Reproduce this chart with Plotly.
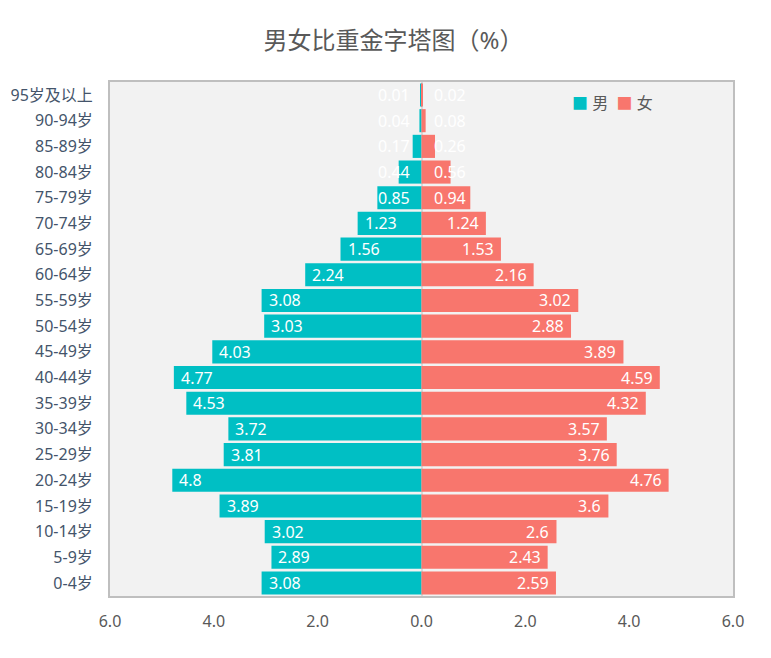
import plotly.graph_objects as go

categories = ["0-4岁", "5-9岁", "10-14岁", "15-19岁", "20-24岁", "25-29岁", "30-34岁",
              "35-39岁", "40-44岁", "45-49岁", "50-54岁", "55-59岁", "60-64岁", "65-69岁",
              "70-74岁", "75-79岁", "80-84岁", "85-89岁", "90-94岁", "95岁及以上"]
male = [3.08, 2.89, 3.02, 3.89, 4.8, 3.81, 3.72, 4.53, 4.77, 4.03, 3.03, 3.08, 2.24,
        1.56, 1.23, 0.85, 0.44, 0.17, 0.04, 0.01]
female = [2.59, 2.43, 2.6, 3.6, 4.76, 3.76, 3.57, 4.32, 4.59, 3.89, 2.88, 3.02, 2.16,
          1.53, 1.24, 0.94, 0.56, 0.26, 0.08, 0.02]
tick_vals = [-6, -4, -2, 0, 2, 4, 6]
tick_text = ["6.0", "4.0", "2.0", "0.0", "2.0", "4.0", "6.0"]

MALE_C = "#00BFC4"
FEMALE_C = "#F8766D"
FONT = "Noto Sans, Noto Sans CJK SC"

fig = go.Figure()
fig.add_trace(go.Bar(y=categories, x=[-v for v in male], orientation="h", name="男",
                     marker=dict(color=MALE_C, line=dict(width=0)), hoverinfo="skip"))
fig.add_trace(go.Bar(y=categories, x=female, orientation="h", name="女",
                     marker=dict(color=FEMALE_C, line=dict(width=0)), hoverinfo="skip"))

lab_font = dict(color="white", size=16, family=FONT)
annotations = []
for c, v in zip(categories, male):
    if v >= 1.0:
        annotations.append(dict(x=-v, y=c, text=str(v), xanchor="left", xshift=5,
                                showarrow=False, font=lab_font))
    else:
        annotations.append(dict(x=0, y=c, text=str(v), xanchor="right", xshift=-10,
                                showarrow=False, font=lab_font))
for c, v in zip(categories, female):
    if v >= 1.0:
        annotations.append(dict(x=v, y=c, text=str(v), xanchor="right", xshift=-5,
                                showarrow=False, font=lab_font))
    else:
        annotations.append(dict(x=0, y=c, text=str(v), xanchor="left", xshift=10,
                                showarrow=False, font=lab_font))

# legend drawn as text
annotations.append(dict(
    xref="paper", yref="paper", x=0.738, y=0.959, xanchor="left", yanchor="middle",
    showarrow=False,
    text=(f'<span style="color:{MALE_C}">■</span> 男  '
          f'<span style="color:{FEMALE_C}">■</span> 女'),
    font=dict(size=16, color="#595959", family=FONT)))

fig.update_layout(
    width=771, height=658,
    margin=dict(l=102, r=46, t=74, b=70, autoexpand=False),
    paper_bgcolor="white", plot_bgcolor="#F2F2F2",
    barmode="relative", bargap=0.1,
    title=dict(text="男女比重金字塔图（%）", x=0.5, xanchor="center", y=0.951, yanchor="middle",
               font=dict(size=24, color="#595959", family=FONT)),
    xaxis=dict(range=[-6, 6], tickvals=tick_vals, ticktext=tick_text, showgrid=False,
               zeroline=True, zerolinecolor="#D9D9D9", zerolinewidth=2,
               showline=True, mirror=True, linecolor="#BFBFBF", linewidth=2,
               tickfont=dict(size=16, color="#595959", family=FONT), ticks="",
               ticklabelstandoff=10, automargin=False),
    yaxis=dict(showgrid=False, showline=True, mirror=True, linecolor="#BFBFBF", linewidth=2,
               tickfont=dict(size=16, color="#44546A", family=FONT), ticks="",
               ticklabelstandoff=12, automargin=False),
    annotations=annotations,
    showlegend=False,
)
fig.write_html("out.html")
